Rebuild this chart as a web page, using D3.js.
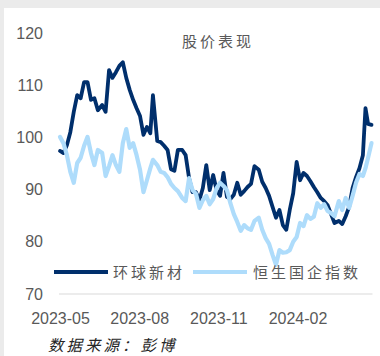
<!DOCTYPE html>
<html>
<head>
<meta charset="utf-8">
<script src="https://cdn.jsdelivr.net/npm/d3@7"></script>
<style>
  body { margin: 0; background: #ebebeb; }
  svg { display: block; }
</style>
</head>
<body>
<svg id="chart" width="380" height="356"></svg>
<script>
// Chart data
const dates = [
  '2023-05-01','2023-05-05','2023-05-09','2023-05-13','2023-05-17','2023-05-21','2023-05-25','2023-05-29',
  '2023-06-02','2023-06-06','2023-06-10','2023-06-14','2023-06-19','2023-06-23','2023-06-27',
  '2023-07-01','2023-07-05','2023-07-09','2023-07-13','2023-07-17','2023-07-21','2023-07-25','2023-07-29',
  '2023-08-02','2023-08-06','2023-08-10','2023-08-14','2023-08-17','2023-08-22','2023-08-26','2023-08-30',
  '2023-09-03','2023-09-07','2023-09-11','2023-09-15','2023-09-20','2023-09-24','2023-09-28',
  '2023-10-02','2023-10-06','2023-10-10','2023-10-14','2023-10-18','2023-10-22','2023-10-26','2023-10-30',
  '2023-11-03','2023-11-07','2023-11-11','2023-11-15','2023-11-19','2023-11-23','2023-11-27',
  '2023-12-01','2023-12-05','2023-12-09','2023-12-13','2023-12-18','2023-12-22','2023-12-26','2023-12-30',
  '2024-01-03','2024-01-07','2024-01-11','2024-01-15','2024-01-19','2024-01-23','2024-01-27','2024-01-31',
  '2024-02-04','2024-02-08','2024-02-12','2024-02-16','2024-02-20','2024-02-24','2024-02-28',
  '2024-03-03','2024-03-07','2024-03-11','2024-03-15','2024-03-20','2024-03-24','2024-03-28',
  '2024-04-01','2024-04-05','2024-04-09','2024-04-13','2024-04-17','2024-04-20','2024-04-23','2024-04-27'
];

// 环球新材
const huanqiu = [
  97.4, 97.0, 98.5, 101.0, 104.9, 108.1, 107.5, 110.6, 110.6, 107.2,
  107.5, 105.2, 106.2, 104.9, 112.9, 111.4, 112.5, 113.7, 114.4, 111.4,
  109.1, 107.2, 105.6, 104.1, 100.5, 102.0, 100.8, 108.1, 99.3, 99.1,
  98.4, 97.6, 93.9, 93.6, 97.6, 97.6, 96.6, 92.2, 89.5, 89.5,
  88.0, 90.3, 94.7, 89.9, 92.8, 89.9, 88.8, 93.2, 88.6, 88.2,
  89.0, 91.3, 89.0, 89.7, 90.5, 91.1, 94.5, 93.8, 91.5, 90.3,
  88.8, 86.7, 84.6, 86.1, 83.2, 82.3, 86.1, 89.3, 95.3, 91.8,
  93.2, 92.6, 91.6, 90.5, 89.5, 88.4, 87.8, 87.0, 85.3, 83.6,
  84.0, 83.4, 84.9, 86.7, 90.3, 92.4, 94.1, 96.6, 105.6, 102.6,
  102.4
];

// 恒生国企指数
const hsce = [
  100.1, 98.9, 96.6, 93.4, 91.3, 95.1, 96.1, 98.4, 100.1, 97.0,
  94.7, 97.6, 97.0, 92.6, 94.5, 96.6, 94.7, 93.4, 98.9, 101.6,
  98.0, 98.9, 96.6, 93.8, 89.5, 91.8, 94.1, 95.7, 94.7, 93.4,
  93.2, 92.4, 91.1, 90.3, 89.7, 88.4, 87.8, 92.2, 89.9, 89.2,
  86.5, 88.0, 88.8, 87.2, 88.2, 90.3, 91.3, 90.7, 89.9, 87.4,
  85.3, 83.8, 82.1, 83.2, 82.6, 82.3, 84.0, 84.6, 82.3, 80.7,
  79.6, 77.5, 75.6, 78.4, 77.9, 78.0, 78.4, 80.0, 80.9, 83.6,
  83.0, 85.1, 84.4, 84.8, 87.4, 86.5, 87.2, 85.9, 85.5, 84.9,
  87.8, 86.1, 88.4, 86.5, 88.8, 91.3, 93.0, 92.6, 94.1, 96.1,
  98.9
];

const seriesNames = ['环球新材', '恒生国企指数'];
const seriesColors = ['#002f6c', '#aedcfb'];
const yTicks = [70, 80, 90, 100, 110, 120];
const xTickLabels = ['2023-05', '2023-08', '2023-11', '2024-02'];
const title = '股价表现';
const source = '数据来源：彭博';

const parseDay = d3.timeParse('%Y-%m-%d');
const parseMonth = d3.timeParse('%Y-%m');
const days = dates.map(parseDay);

const svg = d3.select('#chart');

// White panel over the grey page
svg.append('rect')
  .attr('x', 4).attr('y', 8)
  .attr('width', 376).attr('height', 348)
  .attr('fill', '#ffffff');

// Scales
const x = d3.scaleTime()
  .domain([parseDay('2023-05-01'), parseDay('2024-02-01')])
  .range([60, 297.5]);

const y = d3.scaleLinear()
  .domain([70, 120])
  .range([294, 33]);

const textColor = '#595959';

// Baseline
svg.append('line')
  .attr('x1', x(days[0]) - 1)
  .attr('x2', x(days[days.length - 1]) + 1)
  .attr('y1', y(70)).attr('y2', y(70))
  .attr('stroke', '#d9d9d9')
  .attr('stroke-width', 1.2);

// X axis (labels only)
const xAxis = svg.append('g')
  .attr('transform', `translate(0,${y(70)})`)
  .call(d3.axisBottom(x)
    .tickValues(xTickLabels.map(parseMonth))
    .tickFormat(d3.timeFormat('%Y-%m'))
    .tickSize(0)
    .tickPadding(19));
xAxis.select('.domain').remove();
xAxis.selectAll('text')
  .attr('fill', textColor)
  .attr('font-family', 'Liberation Sans, Arial, sans-serif')
  .attr('font-size', '16px');

// Y axis (labels only)
const yAxis = svg.append('g')
  .attr('transform', 'translate(43,0)')
  .call(d3.axisLeft(y)
    .tickValues(yTicks)
    .tickSize(0)
    .tickPadding(0));
yAxis.select('.domain').remove();
yAxis.selectAll('text')
  .attr('fill', textColor)
  .attr('font-family', 'Liberation Sans, Arial, sans-serif')
  .attr('font-size', '16px');

// Lines
const line = d3.line()
  .x((d, i) => x(days[i]))
  .y(d => y(d));

const seriesData = [huanqiu, hsce];
const widths = [3.8, 4.2];
seriesData.forEach((values, k) => {
  svg.append('path')
    .datum(values)
    .attr('d', line)
    .attr('fill', 'none')
    .attr('stroke', seriesColors[k])
    .attr('stroke-width', widths[k])
    .attr('stroke-linejoin', 'round')
    .attr('stroke-linecap', 'round');
});

// Title
svg.append('text')
  .attr('x', 218).attr('y', 47)
  .attr('text-anchor', 'middle')
  .attr('fill', textColor)
  .attr('font-family', 'Noto Sans CJK SC')
  .attr('font-size', '15px')
  .attr('letter-spacing', '3px')
  .text(title);

// Legend
const legendPos = [{ x1: 54, x2: 108, tx: 113 }, { x1: 193, x2: 247, tx: 253 }];
const legend = svg.append('g').attr('class', 'legend');
seriesNames.forEach((name, k) => {
  legend.append('line')
    .attr('x1', legendPos[k].x1).attr('x2', legendPos[k].x2)
    .attr('y1', 272).attr('y2', 272)
    .attr('stroke', seriesColors[k])
    .attr('stroke-width', 4);
  legend.append('text')
    .attr('x', legendPos[k].tx).attr('y', 278)
    .attr('fill', textColor)
    .attr('font-family', 'Noto Sans CJK SC')
    .attr('font-size', '15px')
    .attr('letter-spacing', '3px')
    .text(name);
});

// Source note
svg.append('text')
  .attr('x', 48).attr('y', 351)
  .attr('fill', '#262626')
  .attr('font-family', 'Noto Sans CJK SC')
  .attr('font-size', '15.5px')
  .attr('font-style', 'italic')
  .attr('letter-spacing', '3px')
  .text(source);
</script>
</body>
</html>
